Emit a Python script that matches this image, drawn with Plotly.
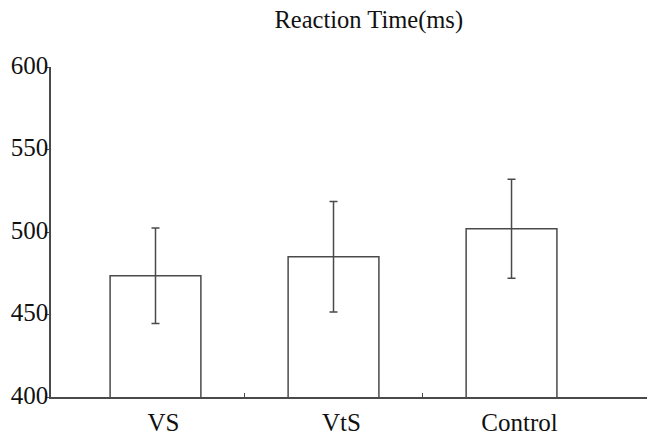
import plotly.graph_objects as go

categories = ["VS", "VtS", "Control"]
reaction_time = [473.5, 485, 502]
error = [29, 33.5, 30]
boundaries = [0.5, 1.5]

y_ticks = [400, 450, 500, 550, 600]

line_col = "#4a4a4a"
font_family = "Liberation Serif, Times New Roman, serif"

fig = go.Figure()
fig.add_trace(go.Bar(
    x=categories, y=reaction_time, width=0.51,
    marker=dict(color="white", line=dict(color=line_col, width=1.5)),
    error_y=dict(type="data", array=error, visible=True,
                 color=line_col, thickness=1.5, width=4),
))
# invisible trace on secondary x axis to host the boundary ticks
fig.add_trace(go.Scatter(x=boundaries, y=[400, 400], xaxis="x2",
                         mode="markers", marker=dict(opacity=0),
                         hoverinfo="skip", showlegend=False))

xr = [-0.587, 2.761]
fig.update_layout(
    width=647, height=436,
    margin=dict(l=51, r=0, t=67, b=39),
    paper_bgcolor="white", plot_bgcolor="white",
    showlegend=False,
    font=dict(family=font_family, color="#111111", size=24),
    title=dict(text="Reaction Time(ms)", x=0.57, xanchor="center",
               xref="container", yref="container",
               y=0.955, yanchor="middle",
               font=dict(family=font_family, size=24.5, color="#111111")),
    xaxis=dict(type="category", range=xr, showline=True, linecolor=line_col,
               linewidth=1.5, ticks="", showgrid=False, zeroline=False,
               automargin=False, ticklabelstandoff=2, ticklabelshift=8,
               tickfont=dict(size=25, family=font_family, color="#111111")),
    xaxis2=dict(overlaying="x", range=xr, showline=False, ticks="inside",
                ticklen=4, tickwidth=1.2, tickcolor=line_col,
                tickvals=boundaries, showticklabels=False, showgrid=False,
                zeroline=False, anchor="y", side="bottom", automargin=False),
    yaxis=dict(range=[400, 600], tickvals=y_ticks, showline=True,
               linecolor=line_col, linewidth=1.5, ticks="outside",
               ticklen=4, tickcolor=line_col, showgrid=False, zeroline=False,
               automargin=False, ticklabelstandoff=-8, ticklabelshift=-2,
               tickfont=dict(size=25, family=font_family, color="#111111")),
)

fig.write_html(
    "out.html",
    config={"responsive": False, "displayModeBar": False},
    post_script="document.body.style.margin='0';document.body.style.overflow='hidden';",
)
